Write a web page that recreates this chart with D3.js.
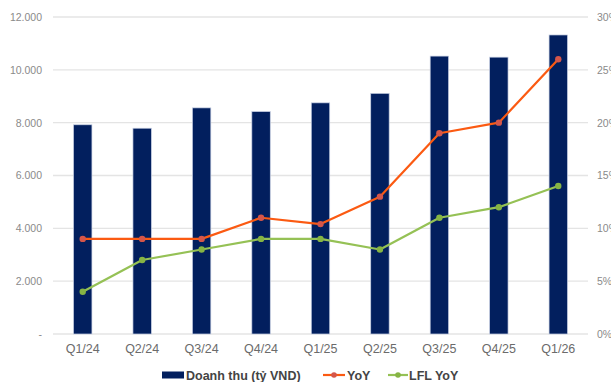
<!DOCTYPE html>
<html>
<head>
<meta charset="utf-8">
<script src="https://cdn.jsdelivr.net/npm/d3@7"></script>
<style>
  html, body { margin: 0; padding: 0; background: #fff; }
  svg { display: block; font-family: "Liberation Sans", Arial, sans-serif; }
</style>
</head>
<body>
<svg id="chart" width="611" height="382"></svg>
<script>
// Quarterly revenue (billion VND) with YoY and like-for-like growth (%)
const quarters = ["Q1/24", "Q2/24", "Q3/24", "Q4/24", "Q1/25", "Q2/25", "Q3/25", "Q4/25", "Q1/26"];
const revenue  = [7920, 7790, 8560, 8420, 8750, 9110, 10520, 10480, 11320];
const yoy      = [9, 9, 9, 11, 10.4, 13, 19, 20, 26];
const lflYoy   = [4, 7, 8, 9, 9, 8, 11, 12, 14];
const leftTicks  = [0, 2000, 4000, 6000, 8000, 10000, 12000];
const rightTicks = [0, 5, 10, 15, 20, 25, 30];

const svg = d3.select("#chart");
const plot = { left: 53, right: 588, top: 17, bottom: 334 };

const x = d3.scaleBand().domain(quarters).range([plot.left, plot.right]).padding(0);
const yL = d3.scaleLinear().domain([0, 12000]).range([plot.bottom, plot.top]);
const yR = d3.scaleLinear().domain([0, 30]).range([plot.bottom, plot.top]);
const cx = q => x(q) + x.bandwidth() / 2;
const barW = x.bandwidth() * 0.31;

const fmtLeft = d => d === 0 ? "-" : d3.format(",")(d).replace(/,/g, ".");

// gridlines
svg.append("g")
  .selectAll("line").data(leftTicks).join("line")
  .attr("x1", plot.left).attr("x2", plot.right)
  .attr("y1", d => yL(d)).attr("y2", d => yL(d))
  .attr("stroke", "#e4e4e4").attr("stroke-width", 1.3);

// left axis
const axL = svg.append("g").attr("transform", `translate(${plot.left},0)`)
  .call(d3.axisLeft(yL).tickValues(leftTicks).tickFormat(fmtLeft).tickSize(0).tickPadding(11));
axL.select(".domain").remove();
axL.selectAll("text").attr("fill", "#8a8a8a").style("font-size", "10.5px");

// right axis
const axR = svg.append("g").attr("transform", `translate(${plot.right},0)`)
  .call(d3.axisRight(yR).tickValues(rightTicks).tickFormat(d => d + "%").tickSize(0).tickPadding(9));
axR.select(".domain").remove();
axR.selectAll("text").attr("fill", "#8a8a8a").style("font-size", "10.5px");

// bottom axis labels
const axB = svg.append("g").attr("transform", `translate(0,${plot.bottom})`)
  .call(d3.axisBottom(x).tickSize(0).tickPadding(10));
axB.select(".domain").remove();
axB.selectAll("text").attr("fill", "#6b6b6b").style("font-size", "12.5px");

// revenue bars
svg.append("g").selectAll("rect").data(quarters).join("rect")
  .attr("x", (q) => cx(q) - barW / 2)
  .attr("width", barW)
  .attr("y", (q, i) => yL(revenue[i]))
  .attr("height", (q, i) => yL(0) - yL(revenue[i]))
  .attr("fill", "#021f5e")
  .attr("stroke", "#c9d1e4").attr("stroke-width", 0.7);

// growth lines
function drawSeries(values, lineColor, dotColor) {
  const line = d3.line().x((d, i) => cx(quarters[i])).y(d => yR(d));
  svg.append("path").datum(values)
    .attr("d", line).attr("fill", "none")
    .attr("stroke", lineColor).attr("stroke-width", 2.2).attr("stroke-linejoin", "round");
  svg.append("g").selectAll("circle").data(values).join("circle")
    .attr("cx", (d, i) => cx(quarters[i])).attr("cy", d => yR(d)).attr("r", 3.2)
    .attr("fill", dotColor);
}
drawSeries(yoy, "#fb5a12", "#d4564a");
drawSeries(lflYoy, "#95c155", "#86b444");

// legend
const lg = svg.append("g").attr("transform", "translate(0,375)");
lg.append("rect").attr("x", 162).attr("y", -3.5).attr("width", 22).attr("height", 7).attr("fill", "#021f5e");
lg.append("text").attr("x", 186).attr("y", 4.5).text("Doanh thu (tỷ VND)");
lg.append("line").attr("x1", 323).attr("x2", 345).attr("y1", 0).attr("y2", 0).attr("stroke", "#fb5a12").attr("stroke-width", 2.2);
lg.append("circle").attr("cx", 334).attr("cy", 0).attr("r", 2.8).attr("fill", "#d4564a");
lg.append("text").attr("x", 347).attr("y", 4.5).text("YoY");
lg.append("line").attr("x1", 388).attr("x2", 408).attr("y1", 0).attr("y2", 0).attr("stroke", "#95c155").attr("stroke-width", 2.2);
lg.append("circle").attr("cx", 398).attr("cy", 0).attr("r", 2.8).attr("fill", "#86b444");
lg.append("text").attr("x", 409).attr("y", 4.5).text("LFL YoY");
lg.selectAll("text").attr("fill", "#444").style("font-size", "12.5px").style("font-weight", "bold");
</script>
</body>
</html>
